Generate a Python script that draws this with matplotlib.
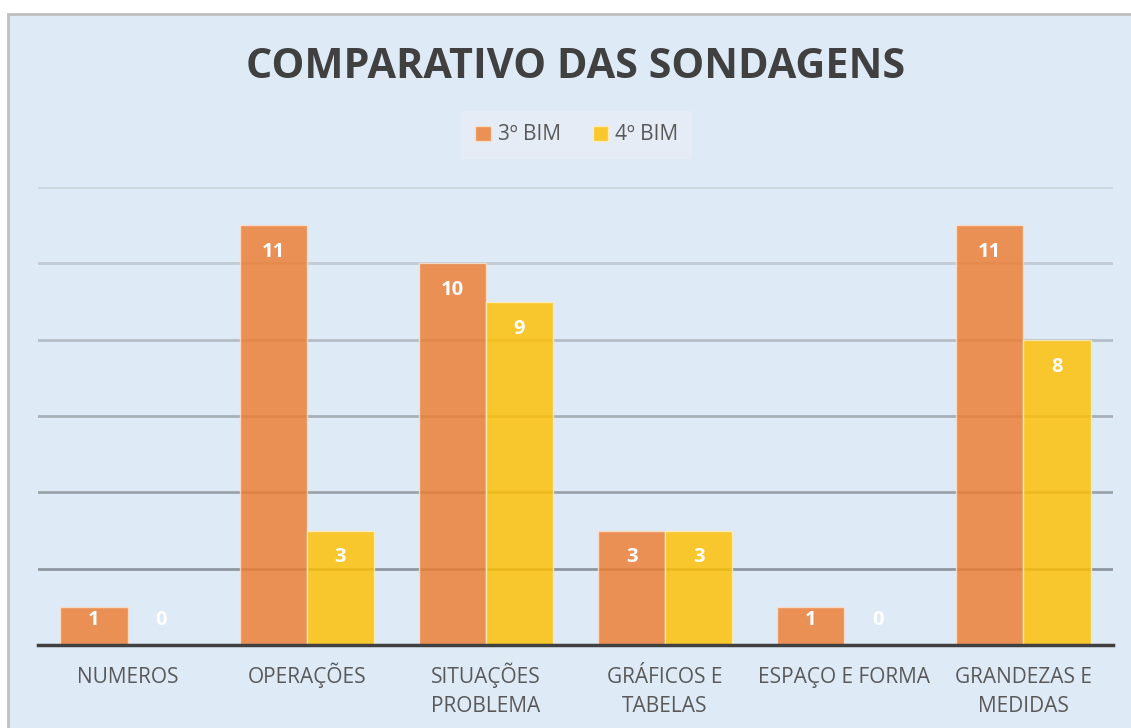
import numpy as np
import matplotlib.pyplot as plt
from matplotlib.patches import Rectangle

# Data
categories = ['NUMEROS', 'OPERAÇÕES', 'SITUAÇÕES\nPROBLEMA', 'GRÁFICOS E\nTABELAS',
              'ESPAÇO E FORMA', 'GRANDEZAS E\nMEDIDAS']
bim3 = [1, 11, 10, 3, 1, 11]
bim4 = [0, 3, 9, 3, 0, 8]
series_names = ['3º BIM', '4º BIM']
grid_levels = [2, 4, 6, 8, 10, 12]

bg = '#DEEAF6'
orange = '#ED7D31'
yellow = '#FFC000'
fonts = ['Open Sans', 'DejaVu Sans']
# gridlines fade from dark (bottom) to light (top)
grid_colors = ['#8F979F', '#9BA3AB', '#A8B0B8', '#B5BDC6', '#C2CAD3', '#CED7E0']

fig = plt.figure(figsize=(11.31, 7.28), dpi=100)
fig.patch.set_facecolor('white')
# chart area background with border
fig.patches.append(Rectangle((8 / 1131, -0.05), 1.05, 1 - 14 / 728 + 0.05,
                             transform=fig.transFigure, facecolor=bg,
                             edgecolor='#BFBFBF', linewidth=2, zorder=-10))

ax_h = 645 - 187
ax = fig.add_axes([38 / 1131, 1 - 645 / 728, (1113 - 38) / 1131, ax_h / 728])
ax.set_facecolor('none')
ax.set_zorder(2)

for lvl, c in zip(grid_levels, grid_colors):
    ax.axhline(lvl, color=c, linewidth=2, zorder=1)

x = np.arange(len(categories))
w = 0.375
b1 = ax.bar(x - w / 2, bim3, w, color=orange, alpha=0.82, edgecolor='#FBE3CF',
            linewidth=1, label=series_names[0], zorder=3)
b2 = ax.bar(x + w / 2, bim4, w, color=yellow, alpha=0.82, edgecolor='#FFF0C0',
            linewidth=1, label=series_names[1], zorder=3)

ax.set_ylim(0, 12)
ax.set_xlim(-0.5, len(categories) - 0.5)
ax.set_yticks([])
ax.set_xticks([])
for s in ['top', 'right', 'left']:
    ax.spines[s].set_visible(False)
ax.spines['bottom'].set_color('#404040')
ax.spines['bottom'].set_linewidth(2.5)
ax.spines['bottom'].set_zorder(4)

# category labels, each line placed on its own baseline
for xi, cat in zip(x, categories):
    for i, line in enumerate(cat.split('\n')):
        ax.text(xi, -(38 + 29 * i) / ax_h, line, transform=ax.get_xaxis_transform(),
                ha='center', va='baseline', fontsize=15, color='#595959',
                family=fonts, clip_on=False)

# data labels near the top inside the bars (kept above the baseline for tiny bars)
px_per_unit = ax_h / 12
for bars, vals in [(b1, bim3), (b2, bim4)]:
    for rect, v in zip(bars, vals):
        ly = max(v - 27 / px_per_unit, 25 / px_per_unit)
        ax.text(rect.get_x() + rect.get_width() / 2, ly, str(v),
                ha='center', va='center', color='white', fontsize=14.5,
                fontweight='bold', family=fonts, zorder=5)

fig.text(576 / 1131, 1 - 68 / 728, 'COMPARATIVO DAS SONDAGENS', ha='center', va='center',
         fontsize=29.8, fontweight='bold', color='#404040', family=fonts)

leg = fig.legend(handles=[b1, b2], labels=series_names, loc='center',
                 bbox_to_anchor=(577 / 1131, 1 - 135 / 728), ncol=2, frameon=True,
                 handlelength=0.75, handleheight=0.75, handletextpad=0.35,
                 columnspacing=1.5, borderpad=0.65, fancybox=False,
                 prop={'family': fonts, 'size': 15})
leg.get_frame().set_facecolor('#E7EDF5')
leg.get_frame().set_edgecolor('none')
for t in leg.get_texts():
    t.set_color('#595959')

fig.savefig('out.png', dpi=100, facecolor=fig.get_facecolor())
